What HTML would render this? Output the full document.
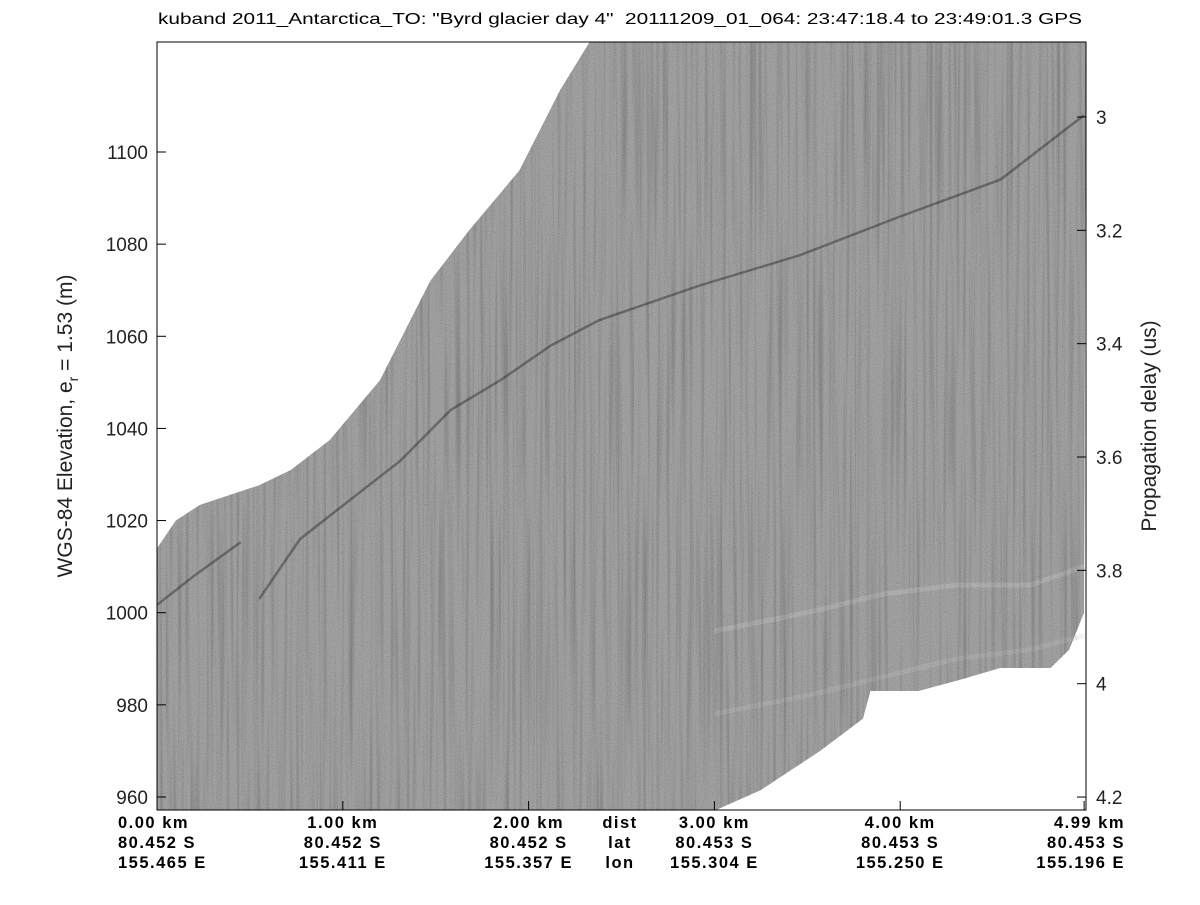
<!DOCTYPE html>
<html><head><meta charset="utf-8"><style>
body{margin:0;background:#fff;}
svg text{font-family:"Liberation Sans",sans-serif;}
</style></head><body>
<svg id="chart" width="1200" height="900" xmlns="http://www.w3.org/2000/svg">
<defs>
<filter id="grain" x="0" y="0" width="100%" height="100%">
  <feTurbulence type="fractalNoise" baseFrequency="0.9 0.9" numOctaves="1" seed="3" result="n1"/>
  <feColorMatrix in="n1" type="matrix" values="0 0 0 0 0  0 0 0 0 0  0 0 0 0 0  0 0 0 -0.7 0.4" result="dots"/>
  <feTurbulence type="fractalNoise" baseFrequency="0.3 0.004" numOctaves="2" seed="7" result="n2"/>
  <feColorMatrix in="n2" type="matrix" values="0 0 0 0 0  0 0 0 0 0  0 0 0 0 0  0 0 0 -0.8 0.45" result="streaks"/>
  <feMerge result="m"><feMergeNode in="SourceGraphic"/><feMergeNode in="streaks"/><feMergeNode in="dots"/></feMerge>
  <feComposite in="m" in2="SourceAlpha" operator="in"/>
</filter>
<clipPath id="plotclip"><rect x="157" y="42" width="929" height="768"/></clipPath>
</defs>
<rect x="0" y="0" width="1200" height="900" fill="#fff"/>
<g id="marks" clip-path="url(#plotclip)"></g>
<rect x="157" y="42" width="929" height="768" fill="none" stroke="#000" stroke-width="1"/>
<g id="axes"></g>
<text x="158" y="24" font-size="16" textLength="924" lengthAdjust="spacingAndGlyphs" xml:space="preserve">kuband 2011_Antarctica_TO: "Byrd glacier day 4"  20111209_01_064: 23:47:18.4 to 23:49:01.3 GPS</text>
<text transform="translate(72,426) rotate(-90)" font-size="21" fill="#222" text-anchor="middle">WGS-84 Elevation, e<tspan font-size="14" dy="6">r</tspan><tspan dy="-6"> = 1.53 (m)</tspan></text>
<text transform="translate(1156,426) rotate(-90)" font-size="21" fill="#222" text-anchor="middle">Propagation delay (us)</text>
</svg>
<script>
const topKm=[0,0.1,0.23,0.55,0.72,0.93,1.2,1.47,1.68,1.95,2.17,2.33,5];
const topElev=[1014,1020,1023.4,1027.7,1031,1037.5,1050.5,1072,1083,1096,1113.5,1124,1124];
const botKm=[0,2.95,3.0,3.25,3.57,3.8,3.84,3.86,4.1,4.32,4.54,4.81,4.91,4.99];
const botElev=[950,950,957,961.5,970,977,983,983,983,985.4,988,988,992,1000];
const layerKm=[0.55,0.77,1.04,1.31,1.58,1.85,2.12,2.38,2.92,3.46,4.0,4.54,4.99];
const layerElev=[1003,1016,1024.5,1033,1044,1050.5,1058,1063.5,1071,1077.6,1086,1094,1108];
const earlyKm=[0,0.2,0.45];
const earlyElev=[1001.7,1008,1015.3];
const bandKm=[3.0,3.5,3.9,4.3,4.7,4.99];
const bandElev=[996,1000,1004,1006,1006,1010];
const band2Elev=[978,982,986,990,992,995];
const yTicks=[960,980,1000,1020,1040,1060,1080,1100];
const rTicks=[3,3.2,3.4,3.6,3.8,4,4.2];
const xTickKm=[0,1,2,3,4,4.99];
const distLabels=["0.00 km","1.00 km","2.00 km","3.00 km","4.00 km","4.99 km"];
const latLabels=["80.452 S","80.452 S","80.452 S","80.453 S","80.453 S","80.453 S"];
const lonLabels=["155.465 E","155.411 E","155.357 E","155.304 E","155.250 E","155.196 E"];

const X=k=>157+k*185.8;
const Y=e=>152+(1100-e)*4.607;
const R=t=>117+(t-3)*566.7;
const NS="http://www.w3.org/2000/svg";
const marks=document.getElementById('marks'), axes=document.getElementById('axes');
function mk(tag,attrs,parent){const el=document.createElementNS(NS,tag);for(const k in attrs)el.setAttribute(k,attrs[k]);parent.appendChild(el);return el;}
function pts(ks,es){return ks.map((k,i)=>X(k).toFixed(1)+','+Y(es[i]).toFixed(1));}

let d='M'+pts(topKm,topElev).join(' L')+' L'+pts(botKm,botElev).reverse().join(' L')+' Z';
const g=mk('g',{filter:'url(#grain)'},marks);
const region=mk('path',{d:d,fill:'#a2a2a2'},g);



const layer=mk('polyline',{points:pts(layerKm,layerElev).join(' '),fill:'none',stroke:'#555','stroke-width':2.5,opacity:0.7},g);


const early=mk('polyline',{points:pts(earlyKm,earlyElev).join(' '),fill:'none',stroke:'#555','stroke-width':2.5,opacity:0.7},g);


const band=mk('polyline',{points:pts(bandKm,bandElev).join(' '),fill:'none',stroke:'#c0c0c0','stroke-width':5,opacity:0.45},g);


const band2=mk('polyline',{points:pts(bandKm,band2Elev).join(' '),fill:'none',stroke:'#c0c0c0','stroke-width':5,opacity:0.35},g);



yTicks.forEach(v=>{const y=Y(v);
 const t=mk('line',{x1:157,x2:166,y1:y,y2:y,stroke:'#000'},axes);
 
 
 const l=mk('text',{x:148,y:y+7,'font-size':19,'text-anchor':'end',fill:'#222'},axes);l.textContent=v;
 
 });
rTicks.forEach(v=>{const y=R(v);
 const t=mk('line',{x1:1077,x2:1086,y1:y,y2:y,stroke:'#000'},axes);
 
 
 const l=mk('text',{x:1096,y:y+7,'font-size':19,fill:'#222'},axes);l.textContent=String(v);
 
 });
xTickKm.forEach((k,i)=>{const x=X(k);
 const t=mk('line',{x1:x,x2:x,y1:801,y2:810,stroke:'#000'},axes);
 
 
 const anchor=i===0?'start':(i===xTickKm.length-1?'end':'middle');
 const xx=i===0?118:(i===xTickKm.length-1?1125:x);
 [[distLabels,828],[latLabels,848],[lonLabels,868]].forEach(([arr,y])=>{
  const l=mk('text',{x:xx,y:y,'font-size':16.5,'font-weight':'bold','text-anchor':anchor,'letter-spacing':'1.5'},axes);l.textContent=arr[i];
  
  });});
[["dist",828],["lat",848],["lon",868]].forEach(([s,y])=>{
 const l=mk('text',{x:620,y:y,'font-size':16.5,'font-weight':'bold','text-anchor':'middle','letter-spacing':'1.5'},axes);l.textContent=s;
 
 });
</script>
</body></html>
